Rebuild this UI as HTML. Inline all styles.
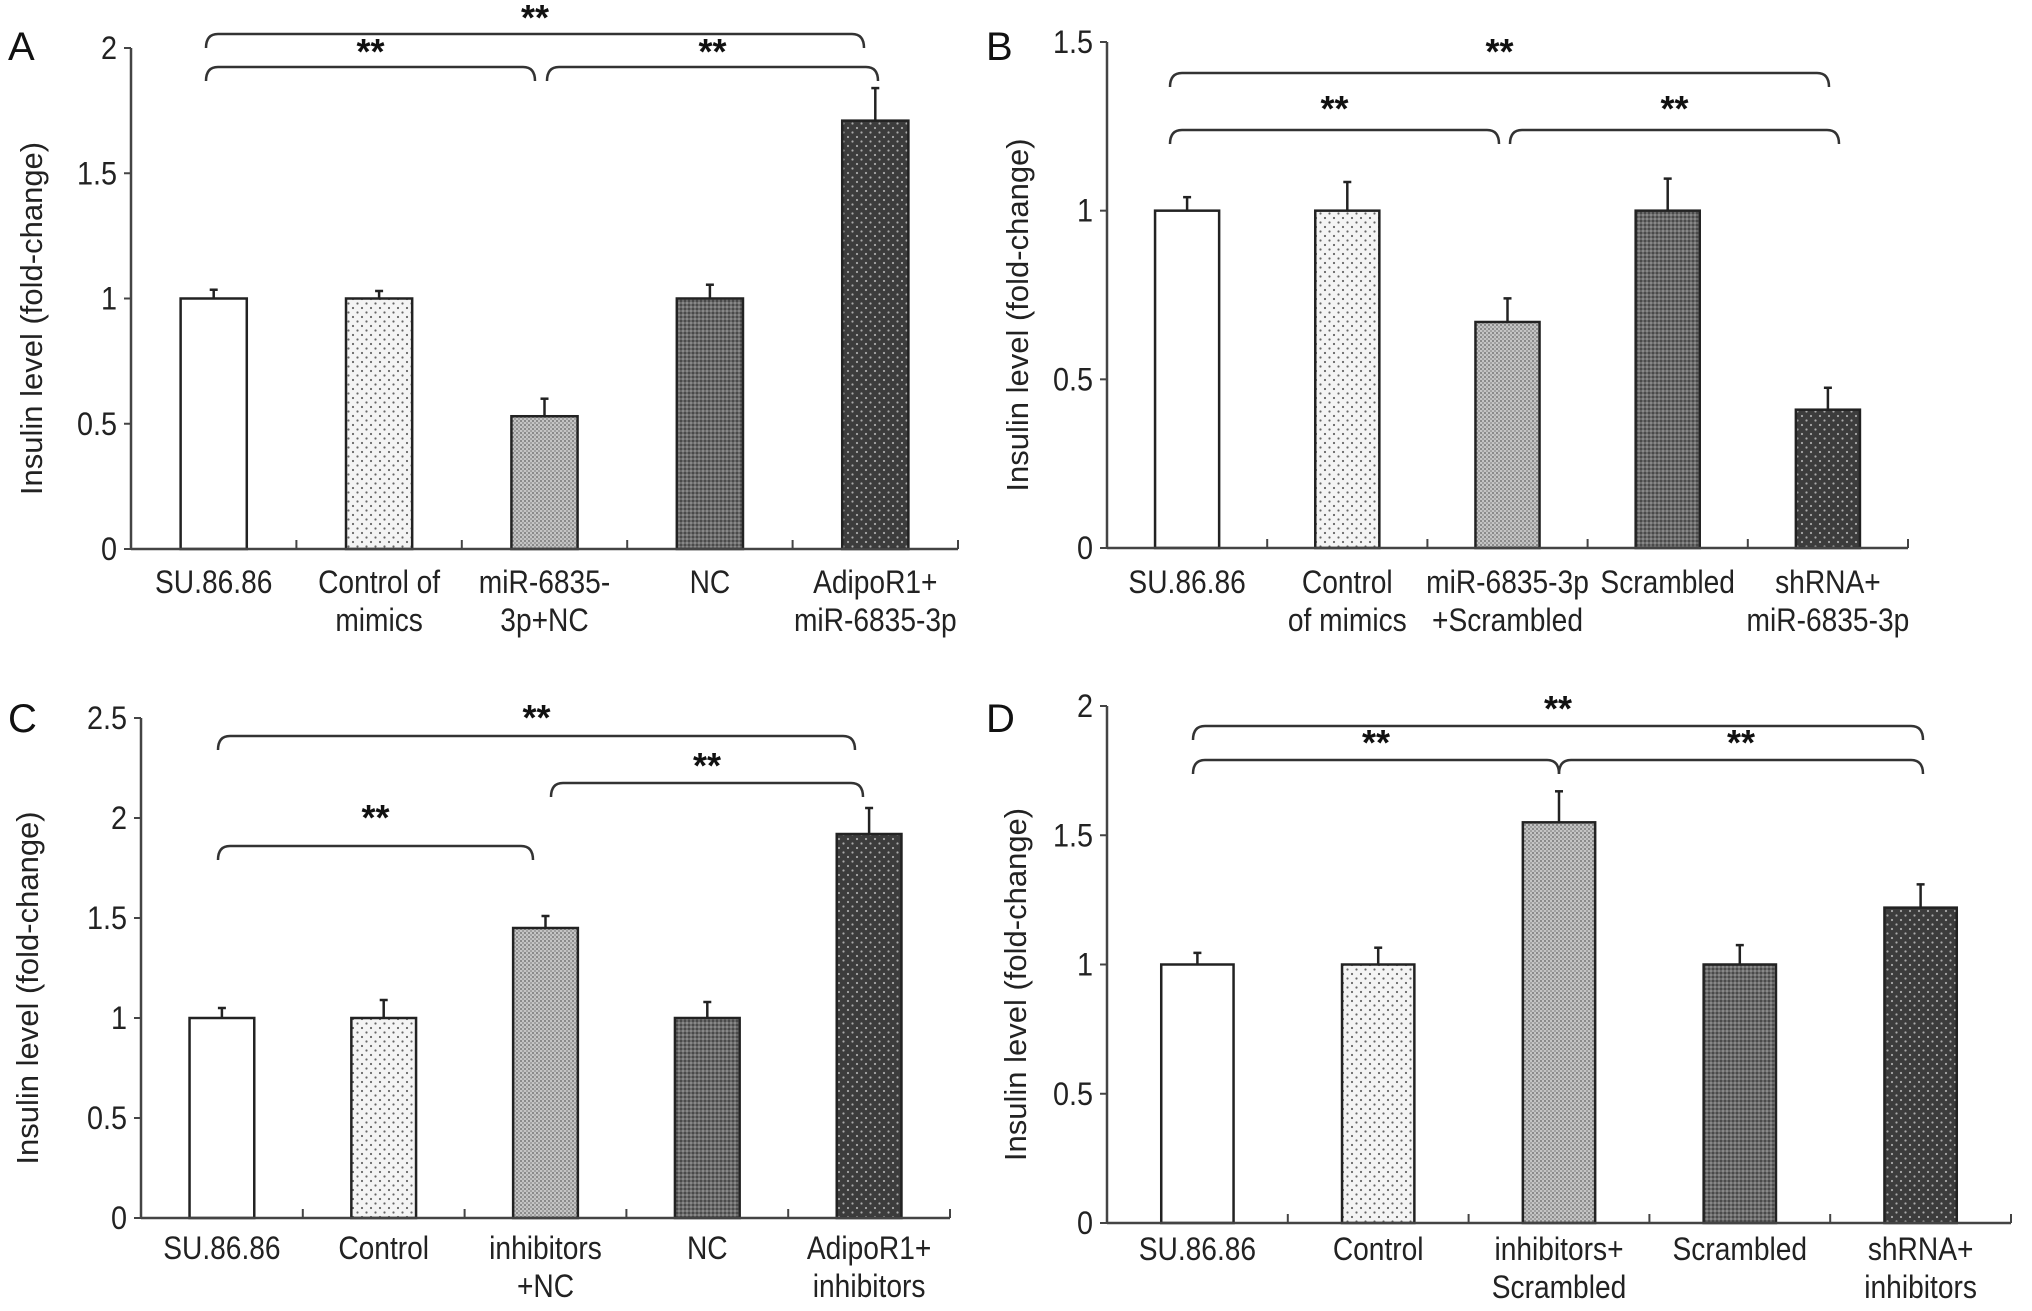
<!DOCTYPE html>
<html><head><meta charset="utf-8">
<style>
html,body{margin:0;padding:0;background:#fff;}
svg{display:block;font-family:"Liberation Sans",Arial,sans-serif;}
</style></head>
<body>
<svg id="fig" width="2032" height="1311" viewBox="0 0 2032 1311" xmlns="http://www.w3.org/2000/svg">
<defs>
  <pattern id="pDots" width="9" height="9" patternUnits="userSpaceOnUse">
    <rect width="9" height="9" fill="#f4f4f4"/><circle cx="2" cy="2" r="1.1" fill="#666"/><circle cx="6.5" cy="6.5" r="1.1" fill="#666"/>
  </pattern>
  <pattern id="pLight" width="4" height="4" patternUnits="userSpaceOnUse">
    <rect width="4" height="4" fill="#c4c4c4"/><rect x="0" y="0" width="2" height="2" fill="#8a8a8a"/><rect x="2" y="2" width="2" height="2" fill="#a0a0a0"/>
  </pattern>
  <pattern id="pMid" width="4" height="4" patternUnits="userSpaceOnUse">
    <rect width="4" height="4" fill="#6a6a6a"/><rect x="0" y="0" width="2" height="2" fill="#4a4a4a"/><rect x="2" y="2" width="2" height="2" fill="#888"/>
  </pattern>
  <pattern id="pDark" width="9" height="9" patternUnits="userSpaceOnUse">
    <rect width="9" height="9" fill="#3c3c3c"/><circle cx="2" cy="2" r="1.1" fill="#aaa"/><circle cx="6.5" cy="6.5" r="1.1" fill="#aaa"/>
  </pattern>
</defs>
</svg>
<script>
// Panel A
const catsA = [["SU.86.86"],["Control of","mimics"],["miR-6835-","3p+NC"],["NC"],["AdipoR1+","miR-6835-3p"]];
const valsA = [1.0, 1.0, 0.53, 1.0, 1.71];
const errsA = [0.035, 0.03, 0.07, 0.055, 0.13];
const ticksA = [0, 0.5, 1, 1.5, 2];
const tickLabelsA = ["0","0.5","1","1.5","2"];
// Panel B
const catsB = [["SU.86.86"],["Control","of mimics"],["miR-6835-3p","+Scrambled"],["Scrambled"],["shRNA+","miR-6835-3p"]];
const valsB = [1.0, 1.0, 0.67, 1.0, 0.41];
const errsB = [0.04, 0.085, 0.07, 0.095, 0.065];
const ticksB = [0, 0.5, 1, 1.5];
const tickLabelsB = ["0","0.5","1","1.5"];
// Panel C
const catsC = [["SU.86.86"],["Control"],["inhibitors","+NC"],["NC"],["AdipoR1+","inhibitors"]];
const valsC = [1.0, 1.0, 1.45, 1.0, 1.92];
const errsC = [0.05, 0.09, 0.06, 0.08, 0.13];
const ticksC = [0, 0.5, 1, 1.5, 2, 2.5];
const tickLabelsC = ["0","0.5","1","1.5","2","2.5"];
// Panel D
const catsD = [["SU.86.86"],["Control"],["inhibitors+","Scrambled"],["Scrambled"],["shRNA+","inhibitors"]];
const valsD = [1.0, 1.0, 1.55, 1.0, 1.22];
const errsD = [0.045, 0.065, 0.12, 0.075, 0.09];
const ticksD = [0, 0.5, 1, 1.5, 2];
const tickLabelsD = ["0","0.5","1","1.5","2"];

const fills = ["#ffffff","url(#pDots)","url(#pLight)","url(#pMid)","url(#pDark)"];
const NS = "http://www.w3.org/2000/svg";
const svg = document.getElementById("fig");

function mk(tag, attrs, parent, text){
  const e = document.createElementNS(NS, tag);
  for (const k in attrs) e.setAttribute(k, attrs[k]);
  if (text !== undefined) e.textContent = text;
  (parent||svg).appendChild(e);
  return e;
}

function drawPanel(p){
  const g = mk("g", {});
  
  
  const n = p.cats.length;
  const step = (p.x1 - p.x0) / n;
  const xc = i => p.x0 + step * (i + 0.5);
  const yv = v => p.y0 - (v / p.max) * (p.y0 - p.yTop);
  const bw = step * 0.4;

  const lbl = mk("text", {x:p.lx, y:p.ly, "font-size":40, fill:"#111"}, g, p.id);
  
  

  p.vals.forEach((v, i) => {
    const x = xc(i), yt = yv(v), ye = yv(v + p.errs[i]);
    const eb = mk("line", {x1:x, y1:yt, x2:x, y2:ye, stroke:"#222", "stroke-width":2.5}, g);
    
    
    const cap = mk("line", {x1:x-4, y1:ye, x2:x+4, y2:ye, stroke:"#222", "stroke-width":2.5}, g);
    
    
    const r = mk("rect", {x:x-bw/2, y:yt, width:bw, height:p.y0-yt, fill:fills[i], stroke:"#222", "stroke-width":2.5}, g);
    
    
    p.cats[i].forEach((t, j) => {
      const tx = mk("text", {x:0, y:0, "font-size":32, "text-anchor":"middle", fill:"#222",
        transform:`translate(${x},${p.labY + j*38}) scale(0.88,1)`}, g, t);
      
      
    });
  });
  const ya = mk("line", {x1:p.x0, y1:p.yTop, x2:p.x0, y2:p.y0, stroke:"#444", "stroke-width":2.5}, g);
  
  
  const xa = mk("line", {x1:p.x0, y1:p.y0, x2:p.x1, y2:p.y0, stroke:"#444", "stroke-width":2.5}, g);
  
  
  for (let i = 1; i <= n; i++){
    const t = mk("line", {x1:p.x0+step*i, y1:p.y0, x2:p.x0+step*i, y2:p.y0-9, stroke:"#444", "stroke-width":2}, g);
    
    
  }
  p.ticks.forEach((v, i) => {
    const y = yv(v);
    const t = mk("line", {x1:p.x0-7, y1:y, x2:p.x0, y2:y, stroke:"#444", "stroke-width":2}, g);
    
    
    const tl = mk("text", {x:0, y:0, "font-size":32, "text-anchor":"end", fill:"#222",
      transform:`translate(${p.x0-14},${y+11}) scale(0.9,1)`}, g, p.tickLabels[i]);
    
    
  });
  const ym = (p.yTop + p.y0) / 2 + 20;
  const yt = mk("text", {x:0, y:0, "font-size":31, "text-anchor":"middle", fill:"#222", transform:`translate(${p.titleX},${ym}) rotate(-90)`}, g, "Insulin level (fold-change)");
  
  
  p.brackets.forEach(b => {
    const [a, c, y, sy] = b;
    const d = `M${a},${y+14} Q${a},${y} ${a+12},${y} L${c-12},${y} Q${c},${y} ${c},${y+14}`;
    const br = mk("path", {d:d, fill:"none", stroke:"#333", "stroke-width":2.5}, g);
    
    
    const st = mk("text", {x:(a+c)/2, y:sy+18, "font-size":36, "font-weight":"bold", "text-anchor":"middle", fill:"#111"}, g, "**");
    
    
  });
}

drawPanel({id:"A", cats:catsA, vals:valsA, errs:errsA, ticks:ticksA, tickLabels:tickLabelsA, max:2,
  x0:131, x1:958, y0:549, yTop:48, labY:593, lx:8, ly:60, titleX:42,
  brackets:[[206,864,34,12],[206,535,67,46],[547,878,67,46]]});
drawPanel({id:"B", cats:catsB, vals:valsB, errs:errsB, ticks:ticksB, tickLabels:tickLabelsB, max:1.5,
  x0:1107, x1:1908, y0:548, yTop:42, labY:593, lx:986, ly:60, titleX:1028,
  brackets:[[1170,1829,73,46],[1170,1499,130,103],[1510,1839,130,103]]});
drawPanel({id:"C", cats:catsC, vals:valsC, errs:errsC, ticks:ticksC, tickLabels:tickLabelsC, max:2.5,
  x0:141, x1:950, y0:1218, yTop:718, labY:1259, lx:8, ly:732, titleX:38,
  brackets:[[218,855,736,712],[218,533,846,812],[551,863,783,760]]});
drawPanel({id:"D", cats:catsD, vals:valsD, errs:errsD, ticks:ticksD, tickLabels:tickLabelsD, max:2,
  x0:1107, x1:2011, y0:1223, yTop:706, labY:1260, lx:986, ly:732, titleX:1026,
  brackets:[[1193,1923,726,703],[1193,1559,760,737],[1559,1923,760,737]]});
</script>
</body></html>
